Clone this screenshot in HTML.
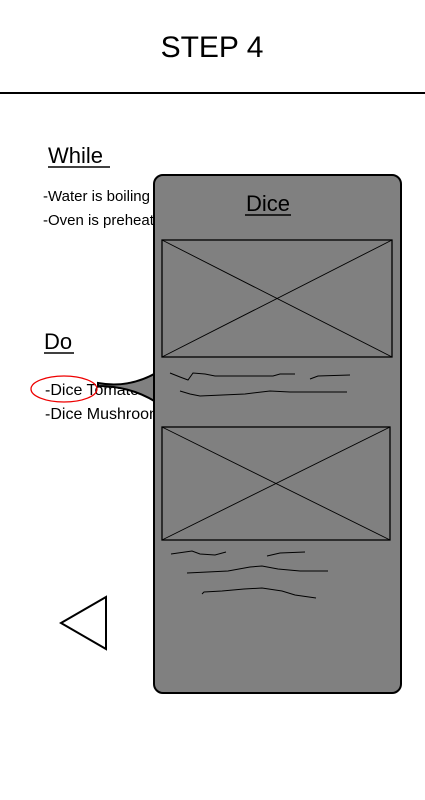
<!DOCTYPE html>
<html><head><meta charset="utf-8"><style>
html,body{margin:0;padding:0;background:#fff;width:425px;height:800px;overflow:hidden}
svg{display:block}
text{font-family:"Liberation Sans",sans-serif;fill:#000}
</style></head><body>
<svg width="425" height="800" viewBox="0 0 425 800">
<text x="212" y="57" font-size="30" text-anchor="middle">STEP 4</text>
<line x1="0" y1="93" x2="425" y2="93" stroke="#000" stroke-width="2"/>
<g>
<text x="48" y="163" font-size="22">While</text>
<line x1="48" y1="167" x2="110" y2="167" stroke="#000" stroke-width="1.5"/>
<text x="43" y="201" font-size="15">-Water is boiling</text>
<text x="43" y="225" font-size="15">-Oven is preheating</text>
</g>
<g>
<text x="44" y="349" font-size="22">Do</text>
<line x1="44" y1="353" x2="74" y2="353" stroke="#000" stroke-width="1.5"/>
<text x="45" y="395" font-size="16">-Dice Tomatoes</text>
<text x="45" y="419" font-size="16">-Dice Mushrooms</text>
</g>
<path d="M98,383 C120,387 140,382 156,373 L156,402 C140,392 120,386 98,386 Z" fill="#808080" stroke="#000" stroke-width="2"/>
<ellipse cx="64" cy="389" rx="33" ry="13" fill="none" stroke="#e00" stroke-width="1.3"/>
<rect x="154" y="175" width="247" height="518" rx="9" fill="#808080" stroke="#000" stroke-width="2"/>
<text x="268" y="211" font-size="22" text-anchor="middle">Dice</text>
<line x1="245" y1="215" x2="291" y2="215" stroke="#000" stroke-width="1.5"/>
<g stroke="#000" fill="none">
<rect x="162" y="240" width="230" height="117" stroke-width="1.3"/>
<line x1="162" y1="240" x2="392" y2="357" stroke-width="0.9"/>
<line x1="392" y1="240" x2="162" y2="357" stroke-width="0.9"/>
</g>
<g stroke="#000" fill="none" stroke-width="1">
<path d="M170,373 L180,377 L188,380 L193,373 L205,374 L215,376 L273,376 L280,374 L295,374"/>
<path d="M310,379 L318,376 L350,375"/>
<path d="M180,391 L190,394 L200,396 L245,394 L270,391 L290,392 L347,392"/>
</g>
<g stroke="#000" fill="none">
<rect x="162" y="427" width="228" height="113" stroke-width="1.3"/>
<line x1="162" y1="427" x2="390" y2="540" stroke-width="0.9"/>
<line x1="390" y1="427" x2="162" y2="540" stroke-width="0.9"/>
</g>
<g stroke="#000" fill="none" stroke-width="1">
<path d="M171,554 L192,551 L200,554 L215,555 L226,552"/>
<path d="M267,556 L280,553 L305,552"/>
<path d="M187,573 L228,571 L250,567 L262,566 L278,569 L300,571 L328,571"/>
<path d="M202,594 L204,592 L222,591 L244,589 L262,588 L282,591 L295,595 L316,598"/>
</g>
<polygon points="61,623 106,597 106,649" fill="#fff" stroke="#000" stroke-width="2"/>
</svg>
</body></html>
